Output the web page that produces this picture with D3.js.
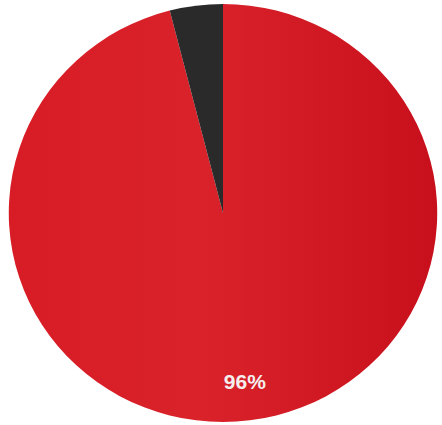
<!DOCTYPE html>
<html>
<head>
<meta charset="utf-8">
<script src="https://cdn.jsdelivr.net/npm/d3@7"></script>
<style>
  body { margin: 0; background: #fff; }
</style>
</head>
<body>
<div id="chart"></div>
<script>
const categories = ["Share", "Other"];
const values = [96, 4];
const labels = ["96%", ""];

const width = 442;
const height = 425;
const cx = 223;
const cy = 213;
const radius = 209;

const svg = d3.select('#chart')
  .append('svg')
  .attr('width', width)
  .attr('height', height);

// slight horizontal gradient like the printed page
const defs = svg.append('defs');
const grad = defs.append('linearGradient')
  .attr('id', 'redGrad')
  .attr('x1', '0%').attr('x2', '100%')
  .attr('y1', '0%').attr('y2', '0%');
grad.append('stop').attr('offset', '0%').attr('stop-color', '#d81c26');
grad.append('stop').attr('offset', '45%').attr('stop-color', '#d9222a');
grad.append('stop').attr('offset', '100%').attr('stop-color', '#c8101c');

const color = d3.scaleOrdinal()
  .domain(categories)
  .range(['url(#redGrad)', '#2b2a2a']);

const pie = d3.pie()
  .sort(null)
  .value(d => d);

const arc = d3.arc()
  .innerRadius(0)
  .outerRadius(radius);

const labelArc = d3.arc()
  .innerRadius(170)
  .outerRadius(170);

const g = svg.append('g')
  .attr('transform', 'translate(' + cx + ',' + cy + ') scale(1.025,1)');

const arcs = pie(values);

g.selectAll('path')
  .data(arcs)
  .enter()
  .append('path')
  .attr('d', arc)
  .attr('fill', (d, i) => color(categories[i]));

g.selectAll('text')
  .data(arcs)
  .enter()
  .append('text')
  .attr('transform', d => 'translate(' + labelArc.centroid(d) + ') scale(' + (1 / 1.025) + ',1)')
  .attr('text-anchor', 'middle')
  .attr('dy', '0.35em')
  .attr('fill', '#f4eeee')
  .attr('font-family', 'Liberation Sans, Arial, sans-serif')
  .attr('font-weight', 'bold')
  .attr('font-size', 21)
  .text((d, i) => labels[i]);
</script>
</body>
</html>
